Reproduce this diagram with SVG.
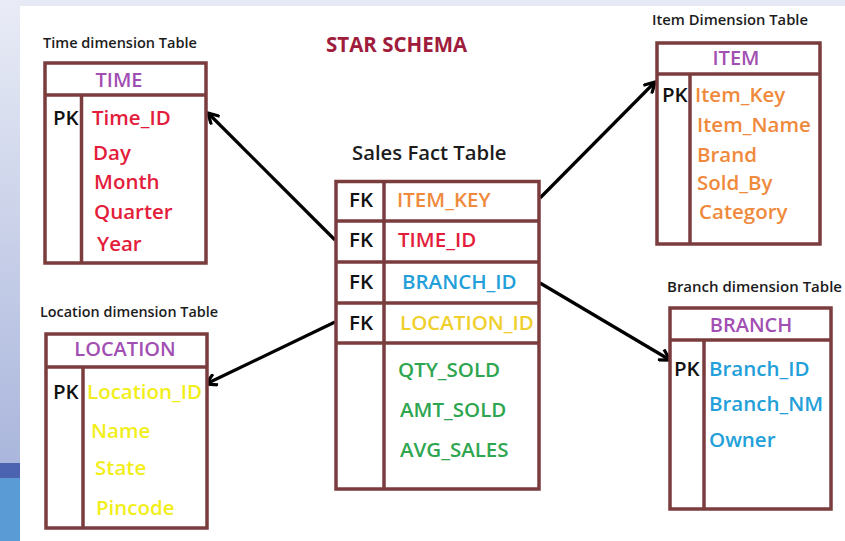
<svg xmlns="http://www.w3.org/2000/svg" width="845" height="541" viewBox="0 0 845 541">
  <style>
    .box { fill: #ffffff; stroke: #7b3c3e; stroke-width: 3.5; }
    .ln { stroke: #7b3c3e; stroke-width: 3.5; fill: none; }
    text { font-family: "Open Sans", "Liberation Sans", sans-serif; font-weight: 600; }
    .cap { font-size: 13.5px; fill: #1c1c1c; }
    .title { font-size: 20.3px; fill: #1c1c1c; }
    .hd { font-size: 20px; fill: #a24fb3; text-anchor: middle; }
    .f { font-size: 20.5px; }
    .k { fill: #111111; }
    .red { fill: #e31d3b; }
    .org { fill: #ef8a3c; }
    .blu { fill: #23a0d9; }
    .ylw { fill: #efcf2c; }
    .ylw2 { fill: #f2ee1a; }
    .grn { fill: #2ea650; }
    .conn { stroke: #000000; stroke-width: 3.2; fill: none; marker-end: url(#head); }
  </style>
  <defs>
    <linearGradient id="side" x1="0" y1="0" x2="0" y2="1">
      <stop offset="0" stop-color="#e9ecf6"/>
      <stop offset="1" stop-color="#aab6dc"/>
    </linearGradient>
    <marker id="head" viewBox="0 0 14 14" refX="12" refY="7" markerWidth="14" markerHeight="14" markerUnits="userSpaceOnUse" orient="auto">
      <path d="M1.5,1 L12,7 L1.5,13" fill="none" stroke="#000000" stroke-width="3.2" stroke-linejoin="miter"/>
    </marker>
  </defs>

  <!-- page background and slide edges -->
  <rect x="0" y="0" width="845" height="541" fill="#ffffff"/>
  <rect x="0" y="0" width="845" height="6" fill="#e6eaf4"/>
  <rect x="0" y="0" width="20" height="463" fill="url(#side)"/>
  <rect x="0" y="463" width="20" height="15" fill="#4c63b1"/>
  <rect x="0" y="478" width="20" height="63" fill="#5b9bd5"/>

  <text x="326" y="52" style="font-size:20.5px;fill:#a01c3c;font-weight:700">STAR SCHEMA</text>

  <!-- connectors -->
  <g id="connectors">
    <path class="conn" d="M335,240 L208,113"/>
    <path class="conn" d="M540,198 L655,82"/>
    <path class="conn" d="M540,283 L670,360"/>
    <path class="conn" d="M335,322 L206,384"/>
  </g>

  <!-- time dimension -->
  <g id="time">
    <text class="cap" x="43" y="48" textLength="154" lengthAdjust="spacingAndGlyphs">Time dimension Table</text>
    <rect class="box" x="45" y="63" width="161" height="200"/>
    <line class="ln" x1="45" y1="95" x2="206" y2="95"/>
    <line class="ln" x1="81.5" y1="95" x2="81.5" y2="263"/>
    <text class="hd" x="119" y="87">TIME</text>
    <text class="f k" x="53" y="125">PK</text>
    <text class="f red" x="92" y="125">Time_ID</text>
    <text class="f red" x="93" y="160">Day</text>
    <text class="f red" x="94" y="189">Month</text>
    <text class="f red" x="94" y="219">Quarter</text>
    <text class="f red" x="97" y="251">Year</text>
  </g>

  <!-- item dimension -->
  <g id="item">
    <text class="cap" x="652" y="25" textLength="156" lengthAdjust="spacingAndGlyphs">Item Dimension Table</text>
    <rect class="box" x="657" y="43" width="163" height="201"/>
    <line class="ln" x1="657" y1="74" x2="820" y2="74"/>
    <line class="ln" x1="690" y1="74" x2="690" y2="244"/>
    <text class="hd" x="736" y="65">ITEM</text>
    <text class="f k" x="662" y="102">PK</text>
    <text class="f org" x="695" y="102">Item_Key</text>
    <text class="f org" x="697" y="132">Item_Name</text>
    <text class="f org" x="697" y="162">Brand</text>
    <text class="f org" x="697" y="190">Sold_By</text>
    <text class="f org" x="699" y="219">Category</text>
  </g>

  <!-- sales fact -->
  <g id="sales">
    <text class="title" x="352" y="160">Sales Fact Table</text>
    <rect class="box" x="336" y="181.5" width="203" height="307.5"/>
    <line class="ln" x1="336" y1="221" x2="539" y2="221"/>
    <line class="ln" x1="336" y1="262" x2="539" y2="262"/>
    <line class="ln" x1="336" y1="303" x2="539" y2="303"/>
    <line class="ln" x1="336" y1="343" x2="539" y2="343"/>
    <line class="ln" x1="384" y1="181.5" x2="384" y2="489"/>
    <text class="f k" x="349" y="207">FK</text>
    <text class="f k" x="349" y="247">FK</text>
    <text class="f k" x="349" y="289">FK</text>
    <text class="f k" x="349" y="330">FK</text>
    <text class="f org" x="397" y="207">ITEM_KEY</text>
    <text class="f red" x="398" y="247">TIME_ID</text>
    <text class="f blu" x="402" y="289">BRANCH_ID</text>
    <text class="f ylw" x="400" y="330">LOCATION_ID</text>
    <text class="f grn" x="398" y="377">QTY_SOLD</text>
    <text class="f grn" x="400" y="417">AMT_SOLD</text>
    <text class="f grn" x="400" y="457">AVG_SALES</text>
  </g>

  <!-- location dimension -->
  <g id="location">
    <text class="cap" x="40" y="317" textLength="178" lengthAdjust="spacingAndGlyphs">Location dimension Table</text>
    <rect class="box" x="46" y="334" width="161" height="194"/>
    <line class="ln" x1="46" y1="367" x2="207" y2="367"/>
    <line class="ln" x1="83" y1="367" x2="83" y2="528"/>
    <text class="hd" x="125" y="356">LOCATION</text>
    <text class="f k" x="53" y="399">PK</text>
    <text class="f ylw2" x="87" y="399">Location_ID</text>
    <text class="f ylw2" x="91" y="438">Name</text>
    <text class="f ylw2" x="95" y="475">State</text>
    <text class="f ylw2" x="96" y="515">Pincode</text>
  </g>

  <!-- branch dimension -->
  <g id="branch">
    <text class="cap" x="667" y="292" textLength="175" lengthAdjust="spacingAndGlyphs">Branch dimension Table</text>
    <rect class="box" x="670" y="308" width="161" height="201"/>
    <line class="ln" x1="670" y1="340" x2="831" y2="340"/>
    <line class="ln" x1="704" y1="340" x2="704" y2="509"/>
    <text class="hd" x="751" y="332">BRANCH</text>
    <text class="f k" x="674" y="376">PK</text>
    <text class="f blu" x="709" y="376">Branch_ID</text>
    <text class="f blu" x="709" y="411">Branch_NM</text>
    <text class="f blu" x="709" y="447">Owner</text>
  </g>
</svg>
